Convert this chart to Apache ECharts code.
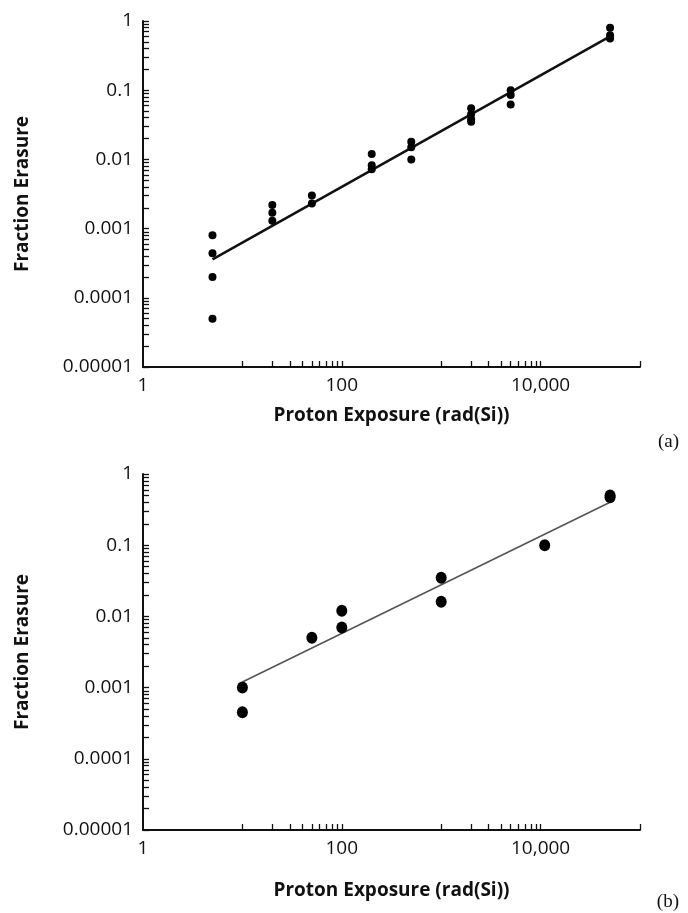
<!DOCTYPE html>
<html>
<head>
<meta charset="utf-8">
<script src="https://cdn.jsdelivr.net/npm/echarts@6/dist/echarts.min.js"></script>
<style>
  html, body { margin: 0; padding: 0; background: #fff; }
  #chart { width: 688px; height: 913px; }
</style>
</head>
<body>
<div id="chart"></div>
<script>
// (a) measured erasure fractions per proton dose
const doseA = [5, 5, 5, 5, 20, 20, 20, 50, 50, 200, 200, 200, 500, 500, 500,
               2000, 2000, 2000, 2000, 5000, 5000, 5000, 50000, 50000, 50000];
const fracA = [0.0008, 0.00044, 0.0002, 0.00005, 0.0022, 0.0017, 0.0013, 0.003, 0.0023,
               0.012, 0.0082, 0.0072, 0.018, 0.015, 0.01,
               0.055, 0.045, 0.038, 0.035, 0.1, 0.085, 0.062, 0.8, 0.62, 0.56];
// (a) power-law trend line end points
const fitDoseA = [5, 50000];
const fitFracA = [0.00036, 0.6];

// (b) measured erasure fractions per proton dose
const doseB = [10, 10, 50, 100, 100, 1000, 1000, 11000, 50000, 50000];
const fracB = [0.001, 0.00045, 0.005, 0.012, 0.007, 0.035, 0.016, 0.1, 0.5, 0.47];
// (b) power-law trend line end points
const fitDoseB = [10, 50000];
const fitFracB = [0.0012, 0.4];

// axis labels, one per decade
const xTickLabels = ['1', '', '100', '', '10,000', ''];
const yTickLabels = ['0.00001', '0.0001', '0.001', '0.01', '0.1', '1'];

// tick marks: x shows 10..100 and 1000..10000 steps plus the end, y shows every 1..9 step
const xTickValues = [];
for (let k = 1; k <= 10; k++) xTickValues.push(k * 10);
for (let k = 1; k <= 10; k++) xTickValues.push(k * 1000);
xTickValues.push(100000);
const yTickValues = [];
for (let e = -5; e < 0; e++) {
  for (let k = 1; k <= 9; k++) yTickValues.push(+(k * Math.pow(10, e)).toPrecision(3));
}
yTickValues.push(1);

const zip = (xs, ys) => xs.map((x, i) => [x, ys[i]]);
const labelFont = '"Open Sans", "Noto Sans", sans-serif';

function xAxisFor(idx, gap) {
  return {
    type: 'log', logBase: 10, gridIndex: idx, min: 1, max: 100000,
    name: 'Proton Exposure (rad(Si))', nameLocation: 'middle', nameGap: gap,
    nameTextStyle: { fontFamily: labelFont, fontWeight: 'bold', fontSize: 19, color: '#111' },
    axisLine: { show: true, lineStyle: { color: '#111', width: 2 } },
    axisTick: { show: true, inside: true, length: 6, customValues: xTickValues,
                lineStyle: { color: '#111', width: 1.3 } },
    axisLabel: { fontFamily: labelFont, fontSize: 19, color: '#111', margin: 9,
                 formatter: v => xTickLabels[Math.round(Math.log10(v))] },
    splitLine: { show: false }, minorTick: { show: false }
  };
}
function yAxisFor(idx) {
  return {
    type: 'log', logBase: 10, gridIndex: idx, min: 0.00001, max: 1,
    name: 'Fraction Erasure', nameLocation: 'middle', nameGap: 111, nameRotate: 90,
    nameTextStyle: { fontFamily: labelFont, fontWeight: 'bold', fontSize: 19, color: '#111' },
    axisLine: { show: true, lineStyle: { color: '#111', width: 2 } },
    axisTick: { show: true, inside: true, length: 6, customValues: yTickValues,
                lineStyle: { color: '#111', width: 1.3 } },
    axisLabel: { fontFamily: labelFont, fontSize: 19, color: '#111', margin: 10,
                 formatter: v => yTickLabels[Math.round(Math.log10(v)) + 5] },
    splitLine: { show: false }, minorTick: { show: false }
  };
}

const chart = echarts.init(document.getElementById('chart'), null, { renderer: 'canvas' });
chart.setOption({
  animation: false,
  backgroundColor: '#fff',
  title: [
    { text: '(a)', right: 4, top: 428,
      textStyle: { fontFamily: '"Liberation Serif", serif', fontWeight: 'normal', fontSize: 19, color: '#111' } },
    { text: '(b)', right: 4, top: 888,
      textStyle: { fontFamily: '"Liberation Serif", serif', fontWeight: 'normal', fontSize: 19, color: '#111' } }
  ],
  grid: [
    { left: 143, top: 21, width: 497, height: 346, outerBoundsMode: 'none' },
    { left: 143, top: 474, width: 497, height: 356, outerBoundsMode: 'none' }
  ],
  xAxis: [xAxisFor(0, 39), xAxisFor(1, 51)],
  yAxis: [yAxisFor(0), yAxisFor(1)],
  series: [
    { type: 'line', xAxisIndex: 0, yAxisIndex: 0, data: zip(fitDoseA, fitFracA),
      showSymbol: false, lineStyle: { color: '#111', width: 2.5 }, z: 2 },
    { type: 'scatter', xAxisIndex: 0, yAxisIndex: 0, data: zip(doseA, fracA),
      symbol: 'circle', symbolSize: 8, itemStyle: { color: '#000', opacity: 1 }, z: 3 },
    { type: 'line', xAxisIndex: 1, yAxisIndex: 1, data: zip(fitDoseB, fitFracB),
      showSymbol: false, lineStyle: { color: '#555', width: 1.6 }, z: 2 },
    { type: 'scatter', xAxisIndex: 1, yAxisIndex: 1, data: zip(doseB, fracB),
      symbol: 'circle', symbolSize: [11, 12], itemStyle: { color: '#000', opacity: 1 }, z: 3 }
  ]
});
</script>
</body>
</html>
